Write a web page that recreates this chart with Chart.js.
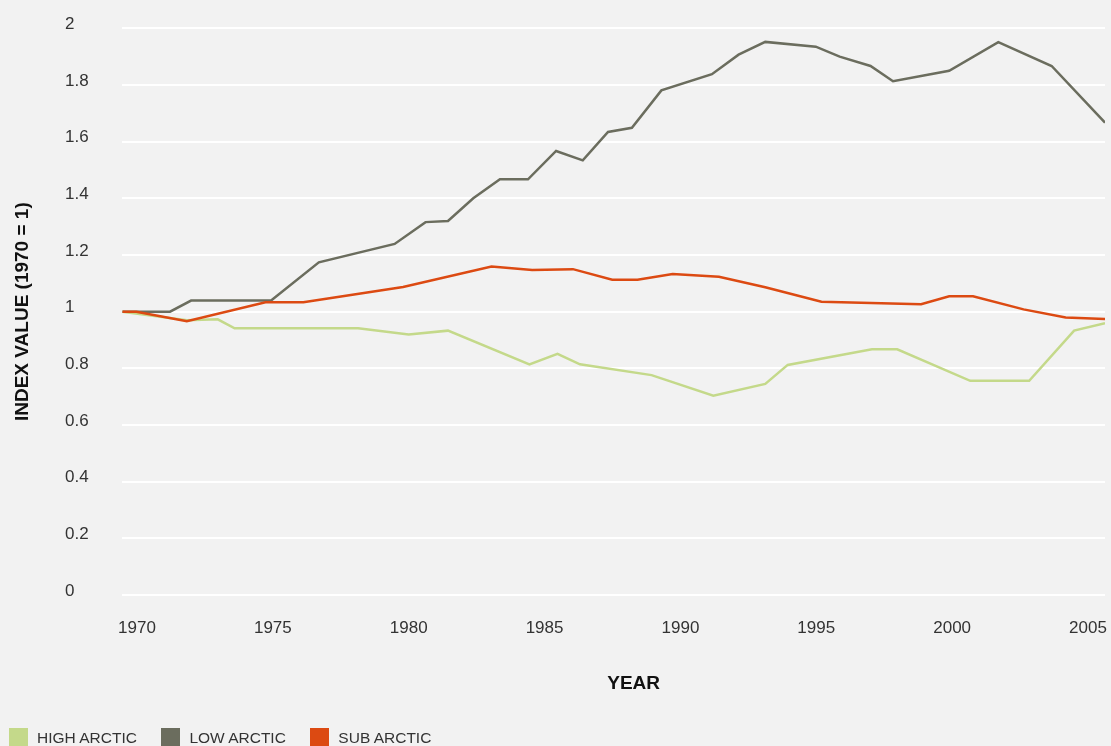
<!DOCTYPE html>
<html>
<head>
<meta charset="utf-8">
<title>Arctic species population index</title>
<script src="https://cdn.jsdelivr.net/npm/chart.js@4.4.0/dist/chart.umd.min.js"></script>
<style>
  html, body { margin: 0; padding: 0; background: #f2f2f2; overflow: hidden; }
  #wrap { position: relative; width: 1111px; height: 746px; }
  #leyenda {
    position: absolute; left: 9px; top: 728px; display: flex;
    font: 15.5px "Liberation Sans", Arial, Helvetica, sans-serif; color: #333;
  }
  .item { display: flex; align-items: center; height: 19px; margin-right: 24.5px; }
  .cuadro { width: 19px; height: 19px; margin-right: 9px; }
</style>
</head>
<body>
<div id="wrap">
  <canvas id="grafico"></canvas>
  <div id="leyenda"></div>
</div>
<script>
// Index value per region (1970 = 1)
const highYears  = [1970, 1972.3, 1973.4, 1974.0, 1978.4, 1980.2, 1981.6, 1984.5, 1985.5, 1986.3,
                    1988.85, 1991.05, 1992.9, 1993.7, 1996.7, 1997.6, 2000.2, 2002.3, 2003.9, 2005];
const highValues = [1.000, 0.970, 0.973, 0.941, 0.941, 0.919, 0.933, 0.814, 0.851, 0.814,
                    0.776, 0.703, 0.745, 0.812, 0.867, 0.867, 0.756, 0.756, 0.933, 0.959];

const lowYears  = [1970, 1971.7, 1972.45, 1975.3, 1977.0, 1979.7, 1980.8, 1981.6, 1982.5, 1983.45,
                   1984.45, 1985.45, 1986.4, 1987.3, 1988.15, 1989.2, 1991.0, 1991.95, 1992.9, 1994.7,
                   1995.55, 1996.65, 1997.45, 1999.45, 2001.2, 2003.1, 2005];
const lowValues = [1.000, 1.000, 1.039, 1.039, 1.174, 1.239, 1.316, 1.320, 1.400, 1.467,
                   1.467, 1.567, 1.534, 1.634, 1.649, 1.781, 1.838, 1.907, 1.952, 1.935,
                   1.900, 1.867, 1.813, 1.850, 1.951, 1.867, 1.667];

const subYears  = [1970, 1970.5, 1972.3, 1975.1, 1976.45, 1980.0, 1983.15, 1984.6, 1986.05, 1987.45,
                   1988.35, 1989.6, 1991.25, 1992.9, 1994.9, 1998.45, 1999.45, 2000.3, 2002.1, 2003.6, 2005];
const subValues = [1.000, 1.000, 0.966, 1.033, 1.033, 1.087, 1.159, 1.147, 1.150, 1.113,
                   1.113, 1.133, 1.123, 1.086, 1.035, 1.026, 1.054, 1.054, 1.008, 0.979, 0.974];

const seriesNames = ['HIGH ARCTIC', 'LOW ARCTIC', 'SUB ARCTIC'];
const seriesColors = ['#c4d98a', '#6b6d5e', '#dc4a12'];
const yearTicks = [1970, 1975, 1980, 1985, 1990, 1995, 2000, 2005];

const FUENTE = '"Liberation Sans", Arial, Helvetica, sans-serif';
Chart.defaults.font.family = FUENTE;
Chart.defaults.color = '#333';

function puntos(anios, valores) {
    return anios.map((a, i) => ({ x: a, y: valores[i] }));
}

const series = [
    puntos(highYears, highValues),
    puntos(lowYears, lowValues),
    puntos(subYears, subValues)
];

const datasets = series.map((data, i) => ({
    label: seriesNames[i],
    data: data,
    borderColor: seriesColors[i],
    backgroundColor: seriesColors[i],
    borderWidth: 2.5,
    pointRadius: 0,
    tension: 0,
    order: 3 - i
}));

// "YEAR" sits a bit right of the plot centre, so it is drawn here instead of as a scale title
const tituloEjeX = {
    id: 'tituloEjeX',
    afterDraw(chart) {
        const { ctx, chartArea } = chart;
        ctx.save();
        ctx.font = `bold 19px ${FUENTE}`;
        ctx.fillStyle = '#111';
        ctx.textAlign = 'center';
        ctx.textBaseline = 'middle';
        ctx.fillText('YEAR', (chartArea.left + chartArea.right) / 2 + 20, 684);
        ctx.restore();
    }
};

const ctx = document.getElementById('grafico').getContext('2d');

new Chart(ctx, {
    type: 'line',
    data: { datasets },
    options: {
        responsive: true,
        maintainAspectRatio: false,
        animation: false,
        events: [],
        layout: { padding: { top: 28.3, right: 6, bottom: 85, left: 0 } },
        plugins: {
            legend: { display: false },
            tooltip: { enabled: false },
            title: {
                display: true,
                position: 'left',
                fullSize: false,
                text: 'INDEX VALUE (1970 = 1)',
                color: '#111',
                font: { size: 19, weight: 'bold', lineHeight: 1.2 },
                padding: { top: 11.1, bottom: 31.1 }
            }
        },
        scales: {
            x: {
                type: 'linear',
                display: false,
                min: 1970,
                max: 2005
            },
            // the year labels sit on their own axis, spread a little wider than the data
            years: {
                type: 'linear',
                position: 'bottom',
                min: 1969.459,
                max: 2005.626,
                afterBuildTicks: (scale) => {
                    scale.ticks = yearTicks.map(v => ({ value: v }));
                },
                afterFit: (scale) => {
                    // labels fit inside the plot width, no extra side padding needed
                    scale.paddingLeft = 0;
                    scale.paddingRight = 0;
                },
                grid: { display: false, drawTicks: false },
                border: { display: false },
                ticks: {
                    padding: 22.8,
                    maxRotation: 0,
                    autoSkip: false,
                    font: { size: 17 },
                    color: '#333',
                    callback: (v) => String(v)
                }
            },
            y: {
                min: 0,
                max: 2,
                afterFit: (scale) => { scale.width = 57.3; },
                grid: { color: '#ffffff', lineWidth: 2, drawTicks: false },
                border: { display: false },
                ticks: {
                    stepSize: 0.2,
                    crossAlign: 'far',
                    labelOffset: -4,
                    font: { size: 17 },
                    color: '#333',
                    callback: (v) => String(Number(v.toFixed(1)))
                }
            }
        }
    },
    plugins: [tituloEjeX]
});

// legend under the chart, built from the datasets
const leyenda = document.getElementById('leyenda');
datasets.forEach(ds => {
    const item = document.createElement('div');
    item.className = 'item';
    item.innerHTML = `<span class="cuadro" style="background:${ds.borderColor}"></span><span>${ds.label}</span>`;
    leyenda.appendChild(item);
});
</script>
</body>
</html>
